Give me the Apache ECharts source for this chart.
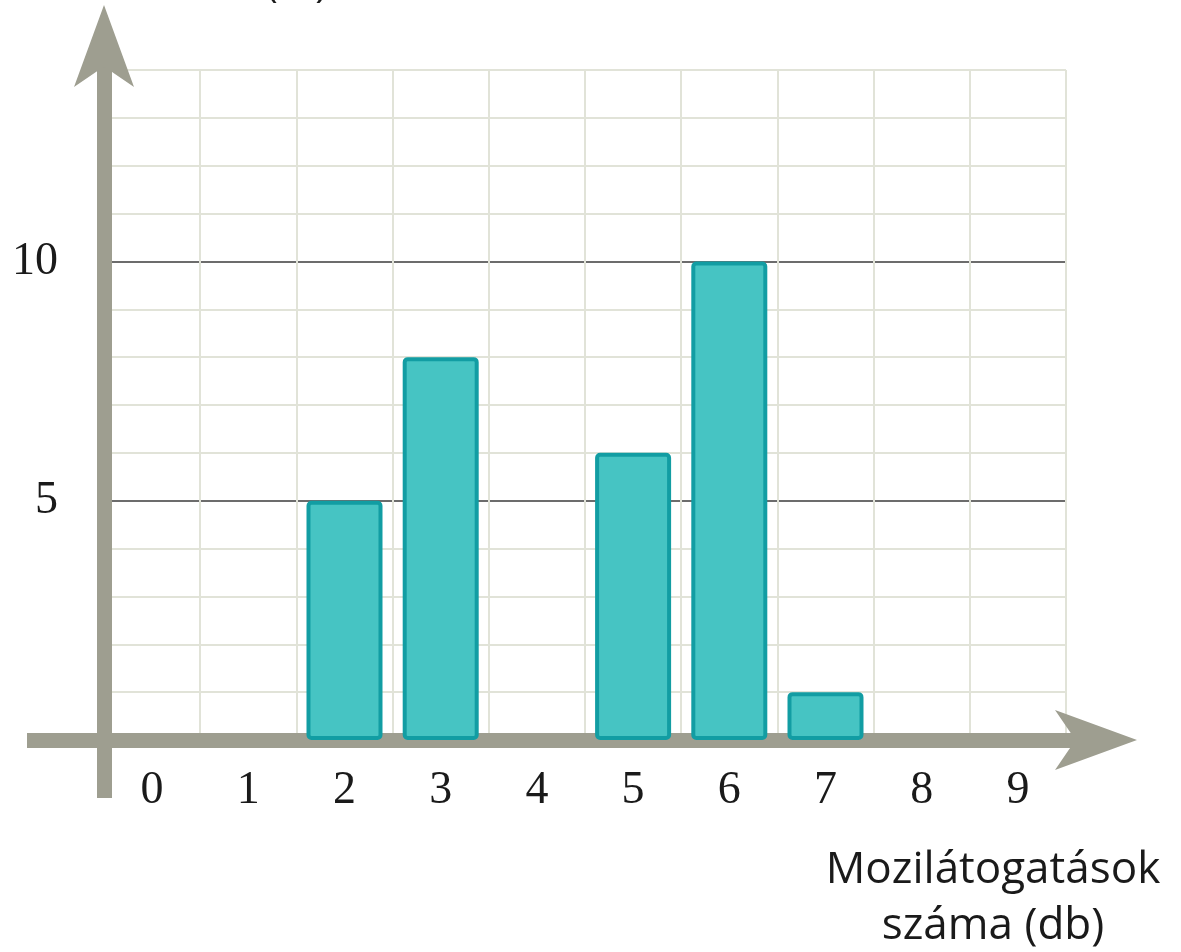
<!DOCTYPE html>
<html>
<head>
<meta charset="utf-8">
<script src="https://cdn.jsdelivr.net/npm/echarts@6/dist/echarts.min.js"></script>
<style>
html,body{margin:0;padding:0;background:#fff;}
#chart{width:1181px;height:952px;}
</style>
</head>
<body>
<div id="chart"></div>
<script>
const categories = ['0','1','2','3','4','5','6','7','8','9'];
const counts = [0, 0, 5, 8, 0, 6, 10, 1, 0, 0];
const yLabelValues = [5, 10];
const xTitle = 'Mozilátogatások\nszáma (db)';
const yTitle = 'Tanulók száma (fő)';

const axisGray = '#9e9e90';
const minorGrid = '#e1e3d8';
const majorGrid = '#6c6c6c';

const chart = echarts.init(document.getElementById('chart'));
chart.setOption({
  animation: false,
  backgroundColor: '#ffffff',
  grid: [
    { left: 104, right: 115, top: 70, bottom: 212 },
    { left: 27, right: 74, top: 35, bottom: 154 }
  ],
  xAxis: [
    {
      type: 'category', gridIndex: 0, data: categories,
      axisLine: { show: false }, axisTick: { show: false },
      axisLabel: { fontFamily: 'Liberation Serif', fontSize: 46, color: '#1a1a1a', margin: 28 },
      splitLine: { show: true, lineStyle: { color: minorGrid, width: 2 } }
    },
    {
      type: 'value', gridIndex: 1, min: -77, max: 1003,
      axisLine: { show: true, onZero: true, symbol: ['none', 'arrow'], symbolSize: [45, 82], symbolOffset: [0, 30],
        lineStyle: { color: axisGray, width: 15, cap: 'butt' } },
      axisTick: { show: false }, axisLabel: { show: false }, splitLine: { show: false }
    }
  ],
  yAxis: [
    {
      type: 'value', gridIndex: 0, min: 0, max: 14, interval: 1,
      axisLine: { show: false }, axisTick: { show: false },
      axisLabel: {
        fontFamily: 'Liberation Serif', fontSize: 46, color: '#1a1a1a', margin: 46,
        formatter: v => yLabelValues.indexOf(v) >= 0 ? String(v) : ''
      },
      splitLine: { show: true, lineStyle: { color: [majorGrid, minorGrid, minorGrid, minorGrid, minorGrid], width: 2 } }
    },
    {
      type: 'value', gridIndex: 1, min: -58, max: 705,
      axisLine: { show: true, onZero: true, symbol: ['none', 'arrow'], symbolSize: [45, 82], symbolOffset: [0, 30],
        lineStyle: { color: axisGray, width: 15, cap: 'butt' } },
      axisTick: { show: false }, axisLabel: { show: false }, splitLine: { show: false }
    }
  ],
  series: [
    {
      type: 'bar', xAxisIndex: 0, yAxisIndex: 0,
      data: counts.map(v => (v === 0 ? null : v)),
      barWidth: '79%',
      itemStyle: { color: '#46c4c3', borderColor: '#129da3', borderWidth: 4, borderRadius: 3 },
      z: 3
    }
  ],
  graphic: [
    {
      type: 'text', x: 993, y: 842,
      style: { text: xTitle, font: '44px "Open Sans"', fill: '#1a1a1a', textAlign: 'center', textVerticalAlign: 'top', lineHeight: 56 }
    },
    {
      type: 'text', x: 327, y: 6,
      style: { text: yTitle, font: '40px "Open Sans"', fill: '#1a1a1a', textAlign: 'right', textVerticalAlign: 'bottom' }
    }
  ]
});
</script>
</body>
</html>
